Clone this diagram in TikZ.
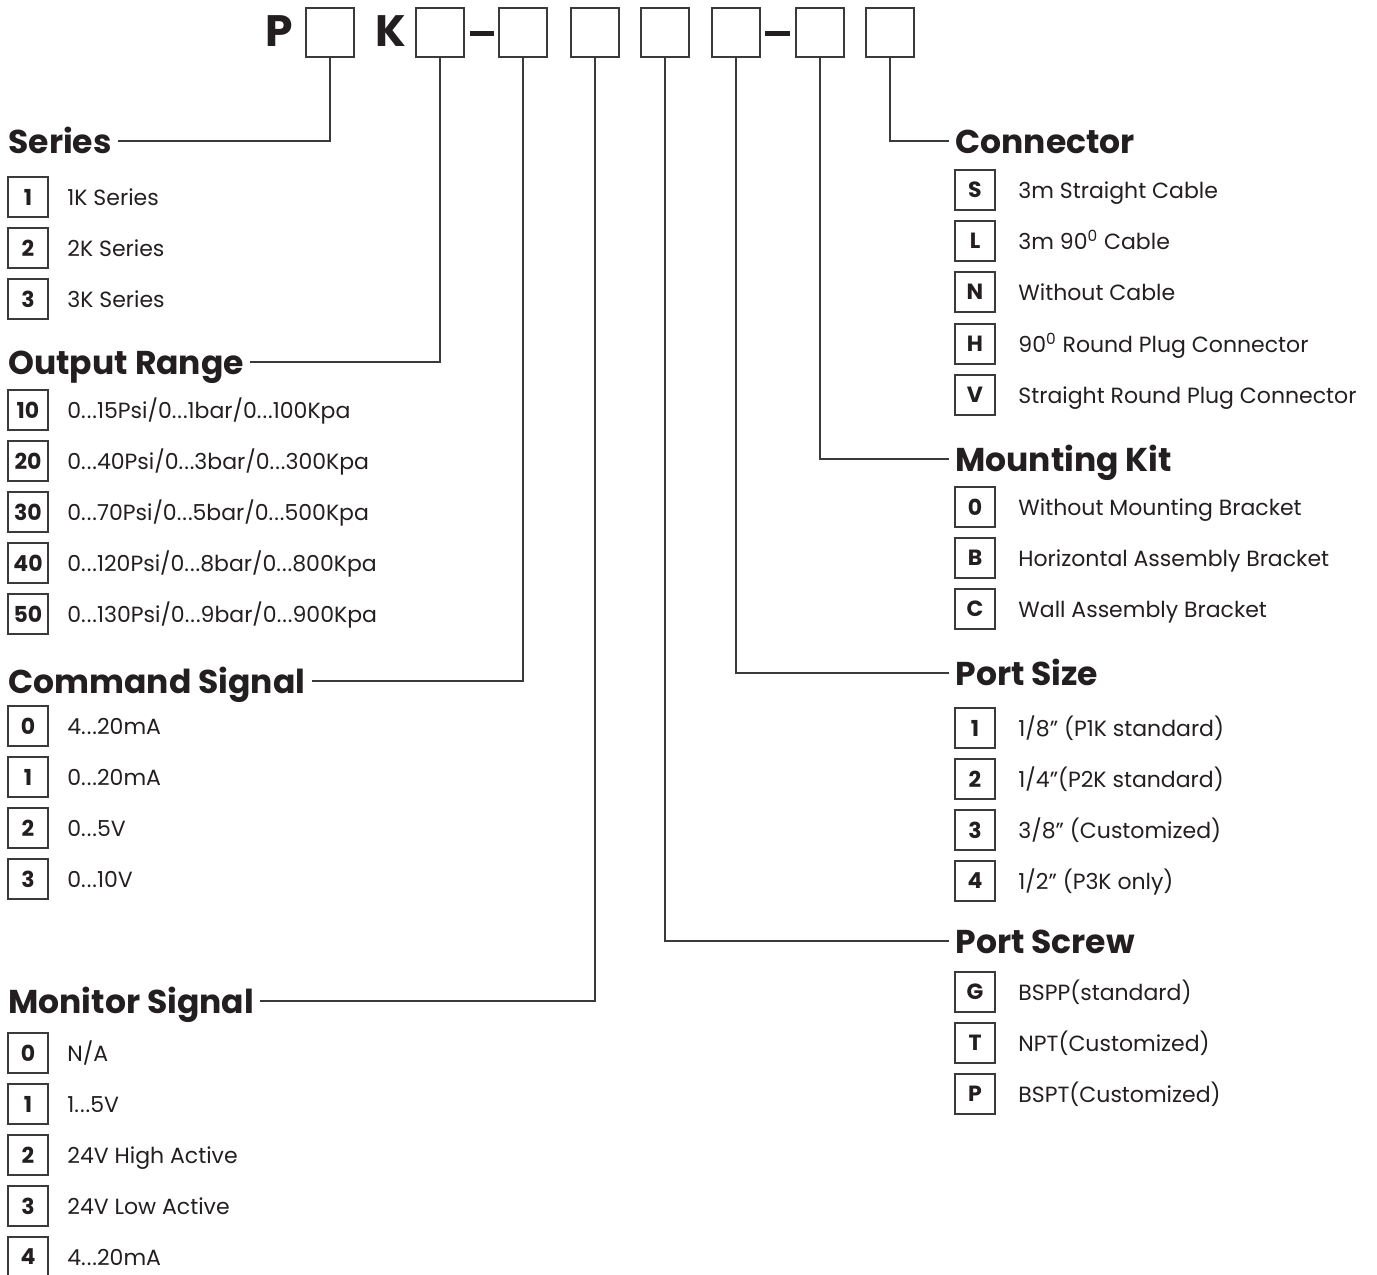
\documentclass[tikz,border=0pt]{standalone}
\usepackage{fontspec}
\setmainfont{Poppins}
\usetikzlibrary{positioning}
\definecolor{pkink}{HTML}{231F20}
\definecolor{pkline}{HTML}{3A3A3A}
\newcommand\dotsrun{.\kern0.5pt.\kern0.5pt.}
\newcommand\inch{\symbol{34}}

\begin{document}
\begin{tikzpicture}[x=0.5pt, y=-0.5pt,
  slotbox/.style={draw=pkline, line width=0.75pt, minimum width=24pt, minimum height=24.5pt, inner sep=0pt},
  codebox/.style={draw=pkline, line width=0.75pt, minimum width=20pt, minimum height=20pt, inner sep=0pt,
    font=\fontsize{11}{13}\selectfont\bfseries, text=pkink},
  heading/.style={anchor=west, font=\fontsize{16.5}{19}\selectfont\bfseries, text=pkink,
    inner xsep=3pt, inner ysep=0pt, text height=14.5pt, text depth=2.5pt},
  itemtext/.style={anchor=west, font=\fontsize{11}{13}\selectfont, text=pkink, inner sep=0pt,
    text height=8.5pt, text depth=0pt},
  lead/.style={draw=pkline, line width=0.6pt}]
\useasboundingbox (0,0) rectangle (1377,1275);

% model code row
\node[font=\fontsize{22}{24}\selectfont\bfseries, text=pkink] (pchar) at (279,31) {P};
\node[slotbox] (b1) at (330,32.5) {};
\node[font=\fontsize{22}{24}\selectfont\bfseries, text=pkink] (kchar) at (391,31) {K};
\node[slotbox] (b2) at (440,32.5) {};
\fill[pkink] (470,30.5) rectangle (494,35.5);
\node[slotbox] (b3) at (523,32.5) {};
\node[slotbox] (b4) at (595,32.5) {};
\node[slotbox] (b5) at (665,32.5) {};
\node[slotbox] (b6) at (736,32.5) {};
\fill[pkink] (765,30.5) rectangle (790,35.5);
\node[slotbox] (b7) at (820,32.5) {};
\node[slotbox] (b8) at (890,32.5) {};

% left column
\node[heading] (series) at (2,141) {Series};
\foreach \code/\desc/\yy [count=\i] in {1/1K Series/197, 2/2K Series/248, 3/3K Series/299}{
  \node[codebox] (series-\i) at (28,\yy) {\code};
  \node[itemtext] (series-\i-t) at (67,\yy) {\desc};
}
\node[heading] (range) at (2,362) {Output Range};
\foreach \code/\desc/\yy [count=\i] in {10/{0\dotsrun15Psi/0\dotsrun1bar/0\dotsrun100Kpa}/410,
    20/{0\dotsrun40Psi/0\dotsrun3bar/0\dotsrun300Kpa}/461,
    30/{0\dotsrun70Psi/0\dotsrun5bar/0\dotsrun500Kpa}/512,
    40/{0\dotsrun120Psi/0\dotsrun8bar/0\dotsrun800Kpa}/563,
    50/{0\dotsrun130Psi/0\dotsrun9bar/0\dotsrun900Kpa}/614}{
  \node[codebox] (range-\i) at (28,\yy) {\code};
  \node[itemtext] (range-\i-t) at (67,\yy) {\desc};
}
\node[heading] (command) at (2,681) {Command Signal};
\foreach \code/\desc/\yy [count=\i] in {0/4\dotsrun20mA/726, 1/0\dotsrun20mA/777, 2/0\dotsrun5V/828, 3/0\dotsrun10V/879}{
  \node[codebox] (command-\i) at (28,\yy) {\code};
  \node[itemtext] (command-\i-t) at (67,\yy) {\desc};
}
\node[heading] (monitor) at (2,1001) {Monitor Signal};
\foreach \code/\desc/\yy [count=\i] in {0/{N/A}/1053, 1/1\dotsrun5V/1104, 2/24V High Active/1155,
    3/24V Low Active/1206, 4/4\dotsrun20mA/1257}{
  \node[codebox] (monitor-\i) at (28,\yy) {\code};
  \node[itemtext] (monitor-\i-t) at (67,\yy) {\desc};
}

% right column
\node[heading] (connector) at (949,141) {Connector};
\foreach \code/\desc/\yy [count=\i] in {S/3m Straight Cable/190, L/3m 90\textsuperscript{0} Cable/241,
    N/Without Cable/292, H/90\textsuperscript{0} Round Plug Connector/344, V/Straight Round Plug Connector/395}{
  \node[codebox] (connector-\i) at (975,\yy) {\code};
  \node[itemtext] (connector-\i-t) at (1018,\yy) {\desc};
}
\node[heading] (mounting) at (949,459) {Mounting Kit};
\foreach \code/\desc/\yy [count=\i] in {0/Without Mounting Bracket/507, B/Horizontal Assembly Bracket/558,
    C/Wall Assembly Bracket/609}{
  \node[codebox] (mounting-\i) at (975,\yy) {\code};
  \node[itemtext] (mounting-\i-t) at (1018,\yy) {\desc};
}
\node[heading] (portsize) at (949,673) {Port Size};
\foreach \code/\desc/\yy [count=\i] in {1/{1/8\inch{} (P1K standard)}/728, 2/{1/4\inch(P2K standard)}/779,
    3/{3/8\inch{} (Customized)}/830, 4/{1/2\inch{} (P3K only)}/881}{
  \node[codebox] (portsize-\i) at (975,\yy) {\code};
  \node[itemtext] (portsize-\i-t) at (1018,\yy) {\desc};
}
\node[heading] (portscrew) at (949,941) {Port Screw};
\foreach \code/\desc/\yy [count=\i] in {G/BSPP(standard)/992, T/NPT(Customized)/1043, P/BSPT(Customized)/1094}{
  \node[codebox] (portscrew-\i) at (975,\yy) {\code};
  \node[itemtext] (portscrew-\i-t) at (1018,\yy) {\desc};
}

% leader lines
\draw[lead] (b1.south) |- (series.east);
\draw[lead] (b2.south) |- (range.east);
\draw[lead] (b3.south) |- (command.east);
\draw[lead] (b4.south) |- (monitor.east);
\draw[lead] (b5.south) |- (portscrew.west);
\draw[lead] (b6.south) |- (portsize.west);
\draw[lead] (b7.south) |- (mounting.west);
\draw[lead] (b8.south) |- (connector.west);
\end{tikzpicture}
\end{document}
